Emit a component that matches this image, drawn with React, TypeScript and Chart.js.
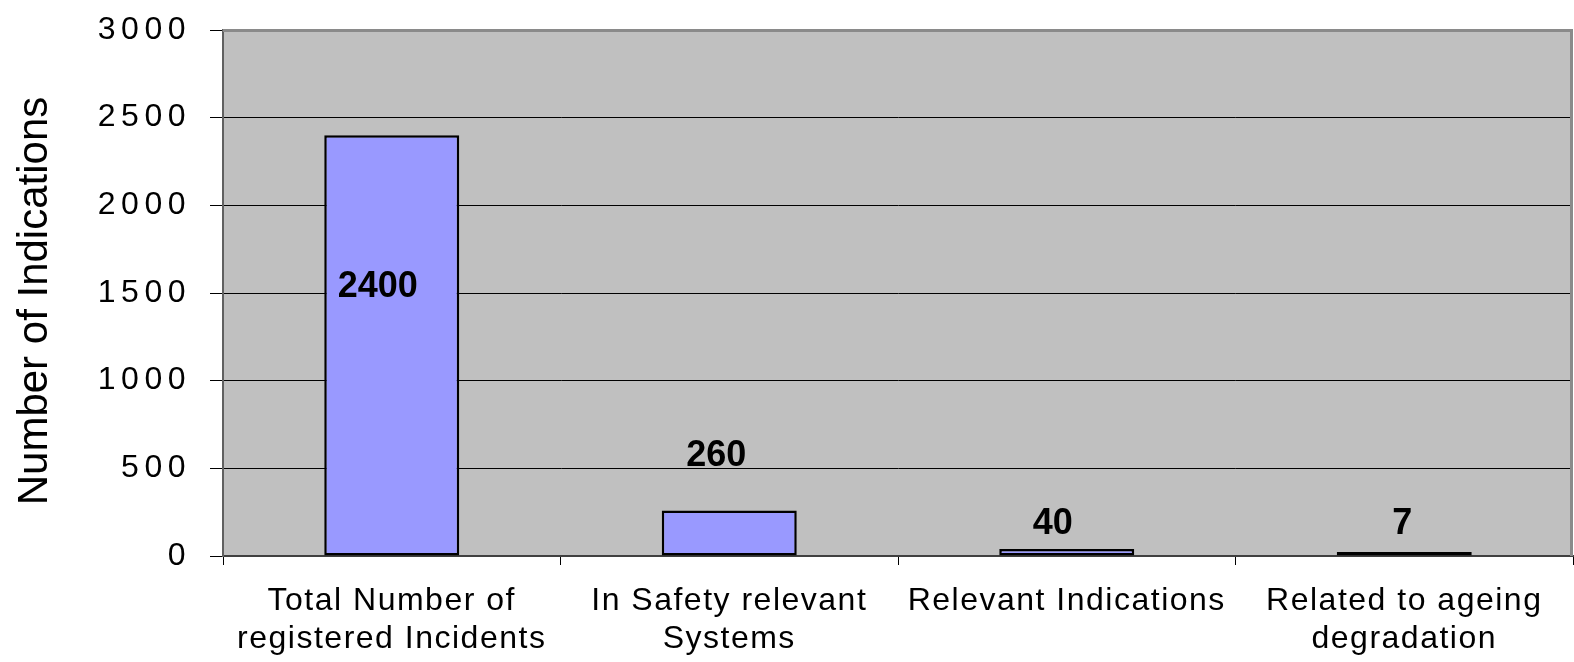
import React, { useEffect, useRef } from "react";
import { Chart, registerables } from "chart.js";

Chart.register(...registerables);

const categories = [
  ["Total Number of", "registered Incidents"],
  ["In Safety relevant", "Systems"],
  "Relevant Indications",
  ["Related to ageing", "degradation"],
];
const values = [2400, 260, 40, 7];
const valueLabels = ["2400", "260", "40", "7"];
const yTickValues = [0, 500, 1000, 1500, 2000, 2500, 3000];
const yTitle = "Number of Indications";

const FONT = '"Liberation Sans", Arial, sans-serif';

// label placement (in axis units / pixel nudges), style only
const labelAnchorValues = [1554, 587, 200, 202];
const labelDx = [-14, -13, -14, -2];

const chromePlugin = {
  id: "chrome",
  beforeDraw(chart: any) {
    const { ctx, chartArea } = chart;
    const { left, top, right, bottom } = chartArea;
    ctx.save();
    ctx.fillStyle = "#C0C0C0";
    ctx.fillRect(left, top, right - left, bottom - top);
    ctx.restore();
    const spacing: [string, string][] = [
      ["y", "5.5px"],
      ["x", "1.5px"],
    ];
    for (const [id, sp] of spacing) {
      const s = chart.scales[id];
      if (s && !s.__wrapped) {
        const orig = s.drawLabels;
        s.drawLabels = function (ca: any) {
          const c = this.ctx;
          c.save();
          (c as any).letterSpacing = sp;
          orig.call(this, ca);
          c.restore();
        };
        s.__wrapped = true;
      }
    }
  },
  afterDraw(chart: any) {
    const { ctx, chartArea } = chart;
    const { left, top, right, bottom } = chartArea;
    // top / right frame
    ctx.save();
    ctx.strokeStyle = "#8a8a8a";
    ctx.lineWidth = 3;
    ctx.beginPath();
    ctx.moveTo(left, top + 0.5);
    ctx.lineTo(right - 1.5, top + 0.5);
    ctx.lineTo(right - 1.5, bottom);
    ctx.stroke();
    ctx.restore();

    // y axis title
    ctx.save();
    ctx.font = `42px ${FONT}`;
    ctx.fillStyle = "#000";
    ctx.textAlign = "center";
    ctx.textBaseline = "alphabetic";
    ctx.translate(47, (top + bottom) / 2 + 8);
    ctx.rotate(-Math.PI / 2);
    ctx.fillText(yTitle, 0, 0);
    ctx.restore();

    // value labels (cap-height centred on the anchor)
    const meta = chart.getDatasetMeta(0);
    const yScale = chart.scales.y;
    ctx.save();
    ctx.font = `bold 36px ${FONT}`;
    ctx.fillStyle = "#000";
    ctx.textAlign = "center";
    ctx.textBaseline = "alphabetic";
    meta.data.forEach((bar: any, i: number) => {
      const y = yScale.getPixelForValue(labelAnchorValues[i]);
      ctx.fillText(valueLabels[i], bar.x + labelDx[i], y + 13);
    });
    ctx.restore();
  },
};

export default function App() {
  const canvasRef = useRef<HTMLCanvasElement | null>(null);

  useEffect(() => {
    if (!canvasRef.current) return;
    const chart = new Chart(canvasRef.current, {
      type: "bar",
      data: {
        labels: categories as any,
        datasets: [
          {
            data: values,
            backgroundColor: "#9999FF",
            borderColor: "#000000",
            borderWidth: 2.5,
            borderSkipped: false,
            categoryPercentage: 1,
            barPercentage: 0.4,
            minBarLength: 4,
          },
        ],
      },
      options: {
        animation: false,
        responsive: true,
        maintainAspectRatio: false,
        layout: { padding: { top: 30, right: 1, left: 0, bottom: 0 } },
        plugins: {
          legend: { display: false },
          tooltip: { enabled: false },
        },
        scales: {
          x: {
            type: "category",
            offset: true,
            grid: {
              offset: true,
              drawOnChartArea: false,
              drawTicks: true,
              tickLength: 9,
              color: "#000",
              lineWidth: 1,
            },
            border: { color: "#404040", width: 2 },
            ticks: {
              font: { family: FONT, size: 32, lineHeight: 1.2 },
              color: "#000",
              padding: 17,
              maxRotation: 0,
              minRotation: 0,
              autoSkip: false,
            },
            afterFit(s: any) {
              s.height = 106;
              s.paddingLeft = 0;
              s.paddingRight = 0;
            },
          },
          y: {
            min: 0,
            max: 3000,
            afterBuildTicks(s: any) {
              s.ticks = yTickValues.map((v) => ({ value: v }));
            },
            grid: {
              color: "#000",
              lineWidth: 1,
              tickLength: 13,
              drawTicks: true,
            },
            border: { color: "#606060", width: 2 },
            ticks: {
              font: { family: FONT, size: 32 },
              color: "#000",
              padding: 19,
              callback: (v: any) => String(v),
            },
            afterFit(s: any) {
              s.width = 223;
              s.paddingTop = 0;
              s.paddingBottom = 0;
            },
          },
        },
      },
      plugins: [chromePlugin],
    });
    return () => chart.destroy();
  }, []);

  return (
    <div
      style={{
        position: "absolute",
        left: 0,
        top: 0,
        width: "1574px",
        height: "662px",
        background: "#fff",
      }}
    >
      <canvas ref={canvasRef} />
    </div>
  );
}
